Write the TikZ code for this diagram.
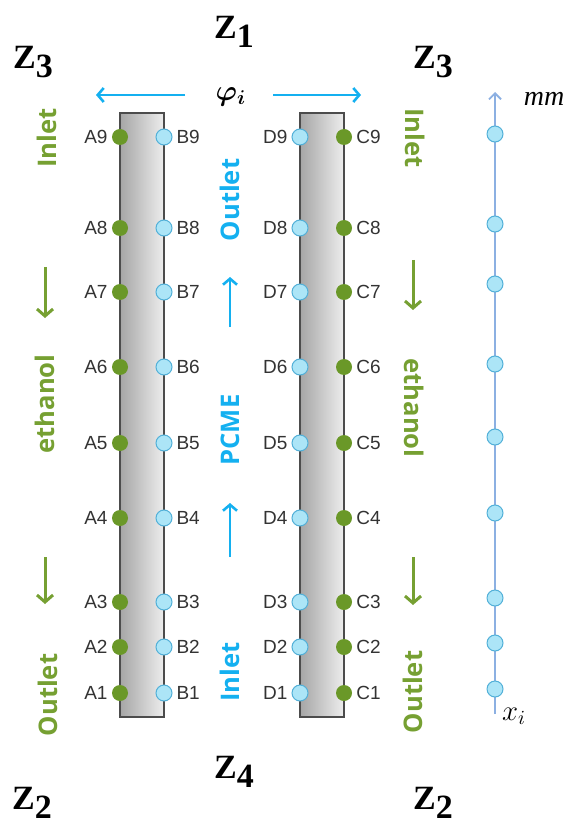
\documentclass[tikz,border=0pt]{standalone}
\usepackage{fontspec}
\setmainfont{Liberation Serif}
\setsansfont{Liberation Sans}
\newfontfamily\flowfont{Open Sans}
\usepackage{amsmath}
\usepackage{bm}
\usetikzlibrary{arrows.meta, positioning, calc}

\definecolor{ethgreen}{RGB}{118,160,50}
\definecolor{pcmeblue}{RGB}{20,176,240}
\definecolor{dotgreen}{RGB}{106,152,40}
\definecolor{dotblue}{RGB}{172,229,247}
\definecolor{dotrim}{RGB}{82,176,216}
\definecolor{rulerblue}{RGB}{140,176,226}

\newcommand{\zsub}[1]{Z\raisebox{-0.55ex}{#1}}

\tikzset{
  column/.style={draw=black!70, line width=0.6pt, left color=black!35, right color=black!7, minimum width=22pt, minimum height=302pt, inner sep=0pt},
  gdot/.style={circle, fill=dotgreen, inner sep=0pt, minimum size=8pt},
  bdot/.style={circle, fill=dotblue, draw=dotrim, line width=0.5pt, inner sep=0pt, minimum size=8pt},
  pin/.style={font=\sffamily\fontsize{9.5}{10}\selectfont, text=black!80, label distance=-1.5pt},
  flow/.style={font=\flowfont\bfseries\fontsize{12.8}{13}\selectfont, inner sep=0pt},
  zlab/.style={font=\bfseries\fontsize{17}{17}\selectfont},
  garrow/.style={ethgreen, line width=1.5pt, -{Straight Barb[length=3.5pt, width=8pt]}},
  barrow/.style={pcmeblue, line width=1.3pt, -{Straight Barb[length=3pt, width=7pt]}}
}

\begin{document}
\begin{tikzpicture}[x=0.5pt, y=-0.5pt]
\useasboundingbox (0,0) rectangle (569,828);

% the two columns
\node[column] (colL) at (142,415) {};
\node[column] (colR) at (322,415) {};

% thermocouple points, A/B on the left column, D/C on the right one
\foreach \n/\y in {1/693, 2/647, 3/602, 4/518, 5/443, 6/367, 7/292, 8/228, 9/137}{
  \node[gdot, label={[pin]left:A\n}] (A\n) at (120,\y) {};
  \node[bdot, label={[pin]right:B\n}] (B\n) at (164,\y) {};
  \node[bdot, label={[pin]left:D\n}] (D\n) at (300,\y) {};
  \node[gdot, label={[pin]right:C\n}] (C\n) at (344,\y) {};
}

% zone names
\node[zlab] (z1) at (234,32) {\zsub{1}};
\node[zlab] (z3l) at (33,62) {\zsub{3}};
\node[zlab] (z3r) at (433,62) {\zsub{3}};
\node[zlab] (z4) at (234,772) {\zsub{4}};
\node[zlab] (z2l) at (32,803) {\zsub{2}};
\node[zlab] (z2r) at (433,803) {\zsub{2}};

% angular direction
\node[font=\fontsize{14}{14}\selectfont] (phi) at (231,97) {$\bm{\varphi}_{\bm{i}}$};
\coordinate (phiL0) at (185,95);
\coordinate (phiL1) at (96,95);
\coordinate (phiR0) at (273,95);
\coordinate (phiR1) at (361,95);
\draw[barrow] (phiL0) -- (phiL1);
\draw[barrow] (phiR0) -- (phiR1);

% PCME between the columns
\node[flow, text=pcmeblue, rotate=90] (pcmeOut) at (230,200) {Outlet};
\node[flow, text=pcmeblue, rotate=90] (pcme) at (230,430) {PCME};
\node[flow, text=pcmeblue, rotate=90] (pcmeIn) at (230,672) {Inlet};
\coordinate (up1s) at (230,327);
\coordinate (up1e) at (230,277);
\coordinate (up2s) at (230,557);
\coordinate (up2e) at (230,503);
\draw[barrow] (up1s) -- (up1e);
\draw[barrow] (up2s) -- (up2e);

% ethanol, left side
\node[flow, text=ethgreen, rotate=90] (ethInL) at (47,138) {Inlet};
\node[flow, text=ethgreen, rotate=90] (ethL) at (45,404) {ethanol};
\node[flow, text=ethgreen, rotate=90] (ethOutL) at (48,695) {Outlet};
\coordinate (dnL1s) at (45,267);
\coordinate (dnL1e) at (45,318);
\coordinate (dnL2s) at (45,557);
\coordinate (dnL2e) at (45,604);
\draw[garrow] (dnL1s) -- (dnL1e);
\draw[garrow] (dnL2s) -- (dnL2e);

% ethanol, right side
\node[flow, text=ethgreen, rotate=-90] (ethInR) at (415,138) {Inlet};
\node[flow, text=ethgreen, rotate=-90] (ethR) at (414,408) {ethanol};
\node[flow, text=ethgreen, rotate=90] (ethOutR) at (413,692) {Outlet};
\coordinate (dnR1s) at (413,260);
\coordinate (dnR1e) at (413,310);
\coordinate (dnR2s) at (413,557);
\coordinate (dnR2e) at (413,605);
\draw[garrow] (dnR1s) -- (dnR1e);
\draw[garrow] (dnR2s) -- (dnR2e);

% height scale
\coordinate (rb) at (495,714);
\coordinate (rt) at (495,92);
\draw[rulerblue, line width=0.9pt, -{Straight Barb[length=3pt, width=6pt]}] (rb) -- (rt);
\foreach \y [count=\k] in {689, 643, 598, 513, 437, 364, 284, 224, 134}
  \node[bdot] (x\k) at (495,\y) {};
\node[font=\itshape\fontsize{14}{14}\selectfont] (mm) at (544,99) {mm};
\node[font=\fontsize{14}{14}\selectfont] (xi) at (514,716) {$x_{i}$};
\end{tikzpicture}
\end{document}
